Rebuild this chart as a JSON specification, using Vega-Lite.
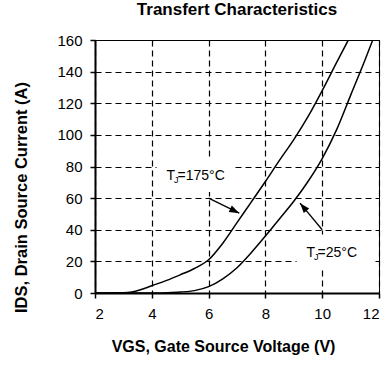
{
  "$schema": "https://vega.github.io/schema/vega-lite/v6.json",
  "width": 284,
  "height": 253,
  "autosize": {"type": "none"},
  "padding": {"left": 95, "top": 40, "right": 13, "bottom": 74},
  "background": "white",
  "title": {
    "text": "Transfert Characteristics",
    "font": "Liberation Sans",
    "fontSize": 17,
    "fontWeight": "bold",
    "color": "black",
    "anchor": "middle",
    "frame": "group",
    "baseline": "alphabetic",
    "offset": 17,
    "dy": 16
  },
  "config": {
    "font": "Liberation Sans",
    "view": {"stroke": "black", "strokeWidth": 1},
    "axis": {
      "labelFont": "Liberation Sans",
      "labelFontSize": 15,
      "labelColor": "black",
      "labelPadding": 8,
      "labelOverlap": false,
      "tickColor": "black",
      "tickSize": 5,
      "tickWidth": 1.5,
      "domainColor": "black",
      "domainWidth": 2,
      "grid": true,
      "gridColor": "black",
      "gridDash": [6, 4],
      "gridWidth": 1.2,
      "gridOpacity": 1,
      "titleFont": "Liberation Sans",
      "titleFontSize": 16,
      "titleFontWeight": "bold",
      "titleColor": "black"
    }
  },
  "datasets": {
    "curves": [
      {"tj": "175°C", "vgs": 2, "ids": 0},
      {"tj": "175°C", "vgs": 2.5, "ids": 0},
      {"tj": "175°C", "vgs": 3, "ids": 0.1},
      {"tj": "175°C", "vgs": 3.3, "ids": 0.6},
      {"tj": "175°C", "vgs": 3.6, "ids": 2},
      {"tj": "175°C", "vgs": 4, "ids": 4.6},
      {"tj": "175°C", "vgs": 4.5, "ids": 7.8},
      {"tj": "175°C", "vgs": 5, "ids": 11.5},
      {"tj": "175°C", "vgs": 5.5, "ids": 15.5},
      {"tj": "175°C", "vgs": 6, "ids": 21},
      {"tj": "175°C", "vgs": 6.5, "ids": 31.5},
      {"tj": "175°C", "vgs": 7, "ids": 44.5},
      {"tj": "175°C", "vgs": 7.5, "ids": 57.5},
      {"tj": "175°C", "vgs": 8, "ids": 70.5},
      {"tj": "175°C", "vgs": 8.5, "ids": 84},
      {"tj": "175°C", "vgs": 9, "ids": 97},
      {"tj": "175°C", "vgs": 9.5, "ids": 111.5},
      {"tj": "175°C", "vgs": 10, "ids": 128},
      {"tj": "175°C", "vgs": 10.5, "ids": 145.5},
      {"tj": "175°C", "vgs": 10.92, "ids": 160},
      {"tj": "25°C", "vgs": 2, "ids": 0},
      {"tj": "25°C", "vgs": 3, "ids": 0},
      {"tj": "25°C", "vgs": 4, "ids": 0},
      {"tj": "25°C", "vgs": 4.5, "ids": 0.2},
      {"tj": "25°C", "vgs": 5, "ids": 0.6},
      {"tj": "25°C", "vgs": 5.5, "ids": 1.5},
      {"tj": "25°C", "vgs": 6, "ids": 4},
      {"tj": "25°C", "vgs": 6.5, "ids": 9},
      {"tj": "25°C", "vgs": 7, "ids": 16},
      {"tj": "25°C", "vgs": 7.5, "ids": 25.5},
      {"tj": "25°C", "vgs": 8, "ids": 36},
      {"tj": "25°C", "vgs": 8.5, "ids": 47},
      {"tj": "25°C", "vgs": 9, "ids": 58},
      {"tj": "25°C", "vgs": 9.5, "ids": 70.5},
      {"tj": "25°C", "vgs": 10, "ids": 85},
      {"tj": "25°C", "vgs": 10.5, "ids": 103},
      {"tj": "25°C", "vgs": 11, "ids": 125},
      {"tj": "25°C", "vgs": 11.5, "ids": 147},
      {"tj": "25°C", "vgs": 11.78, "ids": 160}
    ],
    "labels": [
      {"tj": "175°C", "vgs": 4.52, "ids": 74, "sym": "T", "sub": "J", "rest": "=175°C"},
      {"tj": "25°C", "vgs": 9.45, "ids": 25.6, "sym": "T", "sub": "J", "rest": "=25°C"}
    ],
    "arrows": [
      {"tj": "175°C", "vgs": 7.08, "ids": 50.5, "vgs_start": 6.0, "ids_start": 60},
      {"tj": "25°C", "vgs": 9.22, "ids": 56.8, "vgs_start": 10.0, "ids_start": 40}
    ]
  },
  "encoding": {
    "x": {
      "field": "vgs",
      "type": "quantitative",
      "scale": {"domain": [2, 12], "nice": false, "zero": false},
      "axis": {"values": [2, 4, 6, 8, 10, 12], "title": "VGS, Gate Source Voltage (V)", "titlePadding": 17, "titleX": 128}
    },
    "y": {
      "field": "ids",
      "type": "quantitative",
      "scale": {"domain": [0, 160], "nice": false},
      "axis": {"values": [0, 20, 40, 60, 80, 100, 120, 140, 160], "title": "IDS, Drain Source Current (A)", "titlePadding": 27, "titleY": 157, "titleFontSize": 16.5}
    }
  },
  "layer": [
    {
      "data": {"name": "labels"},
      "mark": {
        "type": "point",
        "shape": "M-0.5,-0.9L3.35,-0.9L3.35,0.8L-0.5,0.8Z",
        "size": 1600,
        "filled": true,
        "color": "white",
        "opacity": 1,
        "strokeWidth": 0
      }
    },
    {
      "data": {"name": "curves"},
      "mark": {"type": "line", "interpolate": "monotone", "color": "black", "strokeWidth": 1.5, "clip": true},
      "encoding": {"detail": {"field": "tj"}}
    },
    {
      "data": {"name": "arrows"},
      "mark": {"type": "rule", "color": "black", "strokeWidth": 1.3},
      "encoding": {
        "x2": {"field": "vgs_start"},
        "y2": {"field": "ids_start"}
      }
    },
    {
      "data": {"name": "arrows"},
      "transform": [{"filter": "datum.tj == '175°C'"}],
      "mark": {"type": "point", "shape": "M0,0L0.35,1L-0.35,1Z", "size": 400, "filled": true, "color": "black", "opacity": 1, "angle": 116}
    },
    {
      "data": {"name": "arrows"},
      "transform": [{"filter": "datum.tj == '25°C'"}],
      "mark": {"type": "point", "shape": "M0,0L0.35,1L-0.35,1Z", "size": 400, "filled": true, "color": "black", "opacity": 1, "angle": 320}
    },
    {
      "data": {"name": "labels"},
      "mark": {"type": "text", "align": "left", "baseline": "middle", "fontSize": 14, "color": "black", "font": "Liberation Sans"},
      "encoding": {"text": {"field": "sym"}}
    },
    {
      "data": {"name": "labels"},
      "mark": {"type": "text", "align": "left", "baseline": "middle", "fontSize": 9, "dx": 7.5, "dy": 4, "color": "black", "font": "Liberation Sans"},
      "encoding": {"text": {"field": "sub"}}
    },
    {
      "data": {"name": "labels"},
      "mark": {"type": "text", "align": "left", "baseline": "middle", "fontSize": 14, "dx": 11, "color": "black", "font": "Liberation Sans"},
      "encoding": {"text": {"field": "rest"}}
    }
  ]
}
